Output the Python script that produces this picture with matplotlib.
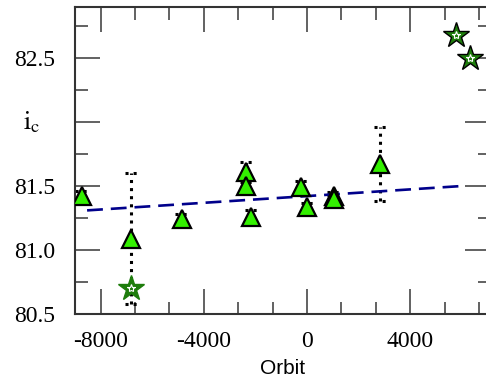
import matplotlib
matplotlib.use("Agg")
import matplotlib.pyplot as plt
from matplotlib.ticker import MultipleLocator, FixedLocator

# triangles: orbit, inclination, error
tri_orbit = [-8730, -6815, -4847, -2361, -2361, -2167, -214, 8, 1041, 1041, 2828]
tri_ic = [81.42, 81.09, 81.24, 81.61, 81.50, 81.26, 81.49, 81.34, 81.425, 81.40, 81.67]
tri_err = [0.04, 0.51, 0.04, 0.08, 0.0, 0.05, 0.05, 0.03, 0.03, 0.03, 0.29]

# star points
star_orbit = [-6815, 5767, 6311]
star_ic = [80.70, 82.68, 82.50]
star_edge = ["#1e7d0c", "black", "black"]

# fitted trend line
fit_orbit = [-8520, 5960]
fit_ic = [81.31, 81.50]

yticks = [80.5, 81.0, 81.5, 82.0, 82.5]
ytick_labels = ["80.5", "81.0", "81.5", "", "82.5"]
xticks = [-8000, -4000, 0, 4000]

plt.rcParams["mathtext.fontset"] = "stix"

fig = plt.figure(figsize=(4.86, 3.79), dpi=100)
ax = fig.add_axes([0.1537, 0.1715, 0.855, 0.810])

# dotted error bars with dotted caps
for x, y, e in zip(tri_orbit, tri_ic, tri_err):
    if e <= 0:
        continue
    ax.plot([x, x], [y - e, y + e], color="black", linestyle=":", linewidth=2.2, zorder=2)
    for yc in (y - e, y + e):
        ax.plot([x - 250, x + 250], [yc, yc], color="black", linestyle=":", linewidth=2.2, zorder=2)

ax.plot(fit_orbit, fit_ic, color="#00008b", linestyle=(0, (6, 3)), linewidth=1.9, zorder=3)

ax.plot(tri_orbit, tri_ic, linestyle="none", marker="^", markersize=13,
        markerfacecolor="#33f000", markeredgecolor="black", markeredgewidth=1.6, zorder=4)

for x, y, ec in zip(star_orbit, star_ic, star_edge):
    ax.plot(x, y, linestyle="none", marker="*", markersize=19,
            markerfacecolor="#1e7d0c", markeredgecolor=ec, markeredgewidth=1.0, zorder=5)
ax.plot(star_orbit, star_ic, linestyle="none", marker="*", markersize=6,
        markerfacecolor="none", markeredgecolor="white", markeredgewidth=0.8, zorder=6)

ax.set_xlim(-9000, 7100)
ax.set_ylim(80.5, 82.9)

ax.xaxis.set_major_locator(FixedLocator(xticks))
ax.xaxis.set_minor_locator(MultipleLocator(4000 / 3))
ax.yaxis.set_major_locator(FixedLocator(yticks))
ax.yaxis.set_minor_locator(MultipleLocator(0.25))
ax.set_yticklabels(ytick_labels)
ax.set_xticklabels([str(v) for v in xticks])

ax.tick_params(which="both", direction="in", top=True, right=True, color="#555555", width=1.3)
ax.tick_params(which="major", length=18)
ax.tick_params(which="minor", length=9)
ax.tick_params(axis="y", which="major", pad=14)
ax.tick_params(axis="x", which="major", pad=12)
for lab in ax.get_xticklabels() + ax.get_yticklabels():
    lab.set_fontfamily("Liberation Serif")
    lab.set_fontsize(17)

for side in ["left", "top", "bottom", "right"]:
    ax.spines[side].set_linewidth(1.5)
    ax.spines[side].set_color("#333333")

ax.set_xlabel("Orbit", fontsize=15, fontfamily="Liberation Sans", labelpad=5)
ax.text(-0.103, 82.0, r"$\mathrm{i_c}$", transform=ax.get_yaxis_transform(),
        fontsize=19, ha="center", va="center")

fig.savefig("out.png", dpi=100)
